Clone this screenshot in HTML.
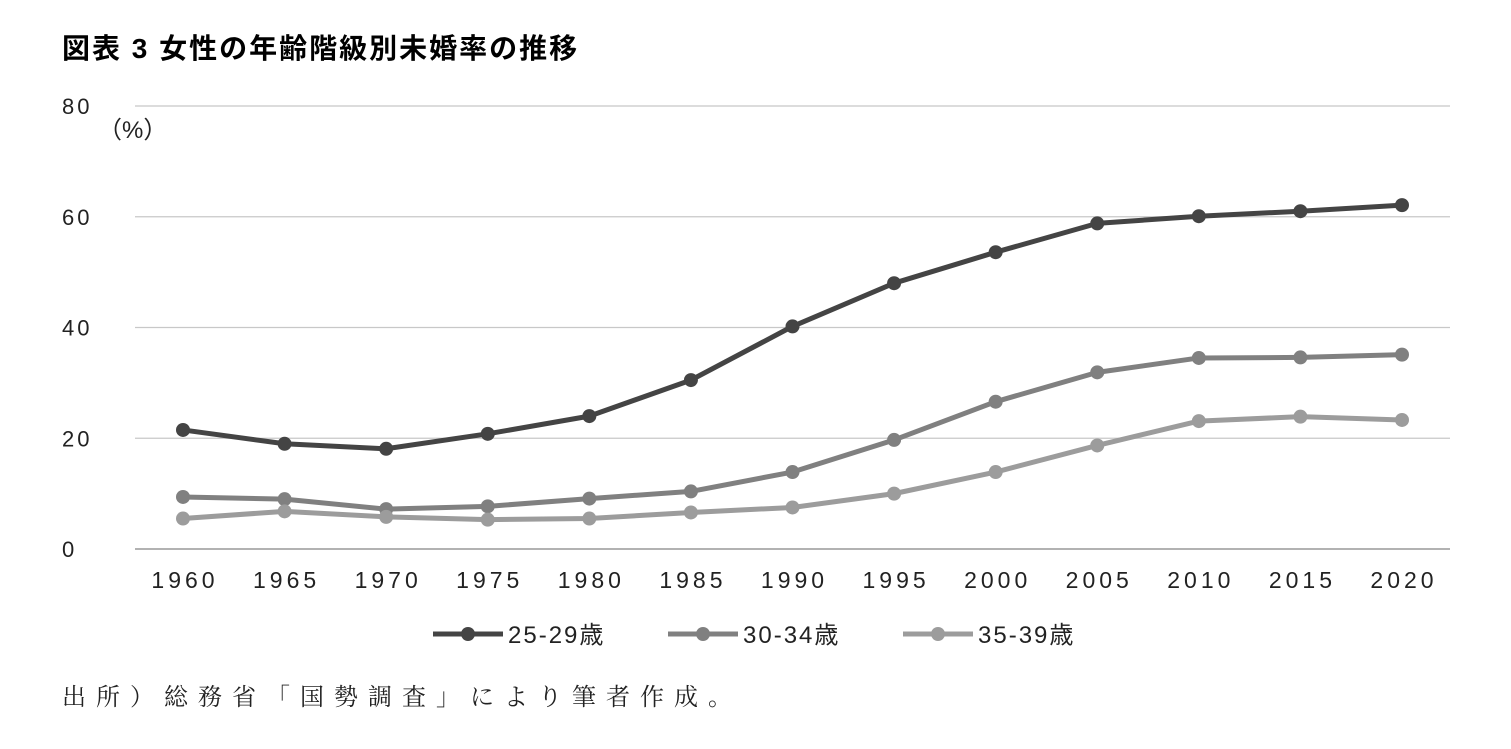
<!DOCTYPE html>
<html><head><meta charset="utf-8">
<style>
body{margin:0;background:#fff;width:1511px;height:744px;overflow:hidden;font-family:"Liberation Sans","Noto Sans CJK JP",sans-serif;}
</style></head>
<body>
<svg width="1511" height="744" xmlns="http://www.w3.org/2000/svg">
<text x="62" y="58" font-size="28" letter-spacing="2" font-weight="bold" font-family="Liberation Sans, Noto Sans CJK JP, sans-serif" fill="#000">図表 3 女性の年齢階級別未婚率の推移</text>
<text x="98" y="138" font-size="24" font-family="Liberation Sans, Noto Sans CJK JP, sans-serif" fill="#222">（%）</text>
<g id="grid"></g><g id="series"></g>
<g font-size="24" letter-spacing="2" font-family="Liberation Sans, Noto Sans CJK JP, sans-serif" fill="#222">
<line x1="433" y1="634" x2="503" y2="634" stroke="#444" stroke-width="5"/><circle cx="468" cy="634" r="7" fill="#444"/>
<text x="508" y="643">25-29歳</text>
<line x1="668" y1="634" x2="738" y2="634" stroke="#808080" stroke-width="5"/><circle cx="703" cy="634" r="7" fill="#808080"/>
<text x="743" y="643">30-34歳</text>
<line x1="903" y1="634" x2="973" y2="634" stroke="#9c9c9c" stroke-width="5"/><circle cx="938" cy="634" r="7" fill="#9c9c9c"/>
<text x="978" y="643">35-39歳</text>
</g>
<text x="62" y="705" font-size="24" letter-spacing="10" font-family="Liberation Serif, Noto Serif CJK SC, serif" fill="#222">出所）総務省「国勢調査」により筆者作成。</text>
</svg>
<script>
const years=[1960,1965,1970,1975,1980,1985,1990,1995,2000,2005,2010,2015,2020];
const s2529=[21.5,19.0,18.1,20.8,24.0,30.5,40.2,48.0,53.6,58.8,60.1,61.0,62.1];
const s3034=[9.4,9.0,7.2,7.7,9.1,10.4,13.9,19.7,26.6,31.9,34.5,34.6,35.1];
const s3539=[5.5,6.8,5.8,5.3,5.5,6.6,7.5,10.0,13.9,18.7,23.1,23.9,23.3];
const yTicks=[0,20,40,60,80];
const NS="http://www.w3.org/2000/svg";
const xS=y=>183+(y-1960)*(1402-183)/60;
const yS=v=>549-v*5.5375;
const grid=document.getElementById('grid'),ser=document.getElementById('series');
function mk(t,a,p){const e=document.createElementNS(NS,t);for(const k in a)e.setAttribute(k,a[k]);p.appendChild(e);return e;}
yTicks.forEach(v=>{
 const l=mk('line',{x1:135,x2:1450,y1:yS(v),y2:yS(v),stroke:v==0?'#999':'#c8c8c8','stroke-width':v==0?1.5:1.2},grid);
 
 
 const t=mk('text',{x:62,y:yS(v)+8,'font-size':22,'letter-spacing':3,'font-family':'Liberation Sans, sans-serif',fill:'#222'},grid);
 t.textContent=v;
 
 
});
years.forEach(y=>{
 const t=mk('text',{x:xS(y)+2,y:588,'font-size':23,'text-anchor':'middle','font-family':'Liberation Sans, sans-serif',fill:'#222','letter-spacing':4},grid);
 t.textContent=y;
 
 
});
[[s2529,'#444','25-29'],[s3034,'#808080','30-34'],[s3539,'#9c9c9c','35-39']].forEach(([d,c,n])=>{
 const p=mk('polyline',{points:d.map((v,i)=>xS(years[i])+','+yS(v)).join(' '),fill:'none',stroke:c,'stroke-width':5,'stroke-linejoin':'round'},ser);
 
 
 d.forEach((v,i)=>{
  const m=mk('circle',{cx:xS(years[i]),cy:yS(v),r:7,fill:c},ser);
  
  
 });
});
</script>
</body></html>
